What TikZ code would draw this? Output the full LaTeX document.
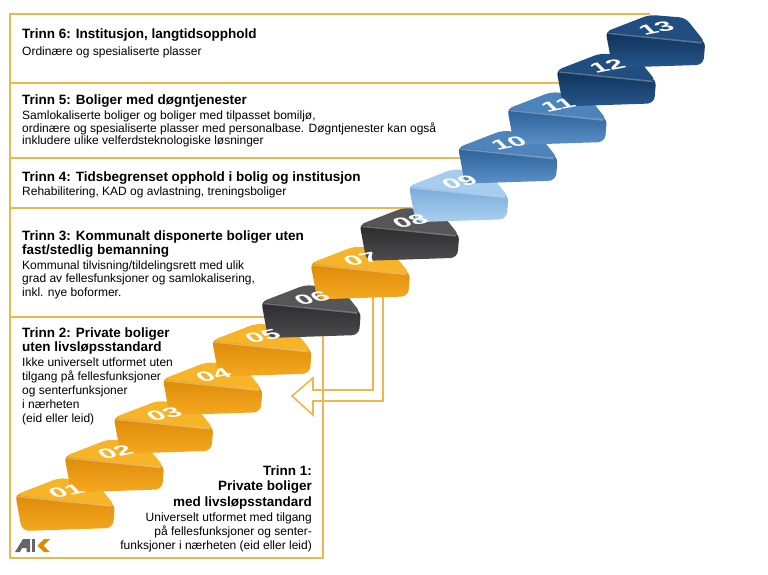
\documentclass[tikz,border=0pt]{standalone}
\usepackage{fontspec}
\setmainfont{Liberation Sans}
\usetikzlibrary{calc}
\definecolor{framegold}{RGB}{236,183,78}
\definecolor{orTop}{RGB}{248,180,40}
\definecolor{orA}{RGB}{220,138,8}
\definecolor{orB}{RGB}{245,168,32}
\definecolor{grTop}{RGB}{86,86,88}
\definecolor{grA}{RGB}{42,42,44}
\definecolor{grB}{RGB}{76,76,78}
\definecolor{lbTop}{RGB}{166,205,238}
\definecolor{lbA}{RGB}{118,168,216}
\definecolor{lbB}{RGB}{170,208,240}
\definecolor{mbTop}{RGB}{78,132,188}
\definecolor{mbA}{RGB}{42,94,148}
\definecolor{mbB}{RGB}{90,144,200}
\definecolor{dbTop}{RGB}{32,78,128}
\definecolor{dbA}{RGB}{14,48,88}
\definecolor{dbB}{RGB}{38,86,138}
\tikzset{
  frameline/.style={draw=framegold, line width=1.6pt},
  trinntitle/.style={anchor=north west, inner sep=0pt, align=left, font=\bfseries\fontsize{13.5}{14.4}\selectfont},
  trinntext/.style={anchor=north west, inner sep=0pt, align=left, font=\fontsize{12}{12.6}\selectfont},
  steplabel/.style={text=white, inner sep=0pt, font=\bfseries\fontsize{20}{20}\selectfont, xscale=1.55, yscale=0.68, rotate=24},
}

\begin{document}
\begin{tikzpicture}[x=1pt, y=-1pt]
	\useasboundingbox[fill=white] (0,0) rectangle (768,574);
	% frame of the boxes
	\draw[frameline] (650,14) -- (10,14) -- (10,558) -- (323,558) -- (323,330);
	\draw[frameline] (10,83) -- (560,83);
	\draw[frameline] (10,158) -- (462,158);
	\draw[frameline] (10,208) -- (412,208);
	\draw[frameline] (10,317) -- (266,317);
	% hollow arrow from step 07
	\draw[frameline] (373,290) -- (373,390) -- (313,390) -- (313,378) -- (292,396) -- (313,415) -- (313,401) -- (383,401) -- (383,290);
	% steps
	\foreach \i/\tc/\fa/\fb in {1/orTop/orA/orB, 2/orTop/orA/orB, 3/orTop/orA/orB, 4/orTop/orA/orB, 5/orTop/orA/orB, 6/grTop/grA/grB, 7/orTop/orA/orB, 8/grTop/grA/grB, 9/lbTop/lbA/lbB, 10/mbTop/mbA/mbB, 11/mbTop/mbA/mbB, 12/dbTop/dbA/dbB, 13/dbTop/dbA/dbB}{
		\begin{scope}[shift={({15+(\i-1)*49.2},{495-(\i-1)*38.6})}]
			\shade[top color=\fa, bottom color=\fb, rounded corners=7pt] (0,-2) -- (100,8) -- (98,33) -- (7,36) -- cycle;
			\fill[\tc, rounded corners=6pt] (0,0) -- (44,-17) -- (80,-14) -- (100,11) -- cycle;
			\draw[white, opacity=0.3, line width=1.5pt, line cap=round] (3,1.5) -- (96,11);
		\end{scope}
	}
	\foreach \i/\lab in {1/01, 2/02, 3/03, 4/04, 5/05, 6/06, 7/07, 8/08, 9/09, 10/10, 11/11, 12/12, 13/13}
		\node[steplabel] (s\i) at ({15+(\i-1)*49.2+51},{495-(\i-1)*38.6-4}) {\lab};
	% texts
	\node[trinntitle] (t6) at (22,29) {Trinn 6: Institusjon, langtidsopphold};
	\node[trinntext] (b6) at (22,46.2) {Ordinære og spesialiserte plasser};
	\node[trinntitle] (t5) at (22,94.4) {Trinn 5: Boliger med døgntjenester};
	\node[trinntext] (b5) at (22,110.7) {Samlokaliserte boliger og boliger med tilpasset bomiljø,\\ordinære og spesialiserte plasser med personalbase. Døgntjenester kan også\\inkludere ulike velferdsteknologiske løsninger};
	\node[trinntitle] (t4) at (22,171.8) {Trinn 4: Tidsbegrenset opphold i bolig og institusjon};
	\node[trinntext] (b4) at (22,186.2) {Rehabilitering, KAD og avlastning, treningsboliger};
	\node[trinntitle] (t3) at (22,230.1) {Trinn 3: Kommunalt disponerte boliger uten\\fast/stedlig bemanning};
	\node[trinntext, font=\fontsize{12}{13.3}\selectfont] (b3) at (22,260.5) {Kommunal tilvisning/tildelingsrett med ulik\\grad av fellesfunksjoner og samlokalisering,\\inkl. nye boformer.};
	\node[trinntitle] (t2) at (22,327.4) {Trinn 2: Private boliger\\uten livsløpsstandard};
	\node[trinntext, font=\fontsize{12}{14}\selectfont] (b2) at (22,357.2) {Ikke universelt utformet uten\\tilgang på fellesfunksjoner\\og senterfunksjoner\\i nærheten\\(eid eller leid)};
	\node[trinntitle, anchor=north east, align=right, font=\bfseries\fontsize{13.5}{15.5}\selectfont] (t1) at (312,465.1) {Trinn 1:\\Private boliger\\med livsløpsstandard};
	\node[trinntext, anchor=north east, align=right, font=\fontsize{12}{13.8}\selectfont] (b1) at (312,512.9) {Universelt utformet med tilgang\\på fellesfunksjoner og senter-\\funksjoner i nærheten (eid eller leid)};
	% logo
	\fill[gray!80!black] (15,552) -- (23,539) -- (30,539) -- (30,552) -- (26.5,552) -- (26.5,548) -- (22,548) -- (20,552) -- cycle;
	\fill[gray!80!black] (32,539) rectangle (34.5,552);
	\fill[orA] (44,539) -- (37.5,545.5) -- (44,552) -- (50,552) -- (43.5,545.5) -- (50,539) -- cycle;
\end{tikzpicture}
\end{document}
